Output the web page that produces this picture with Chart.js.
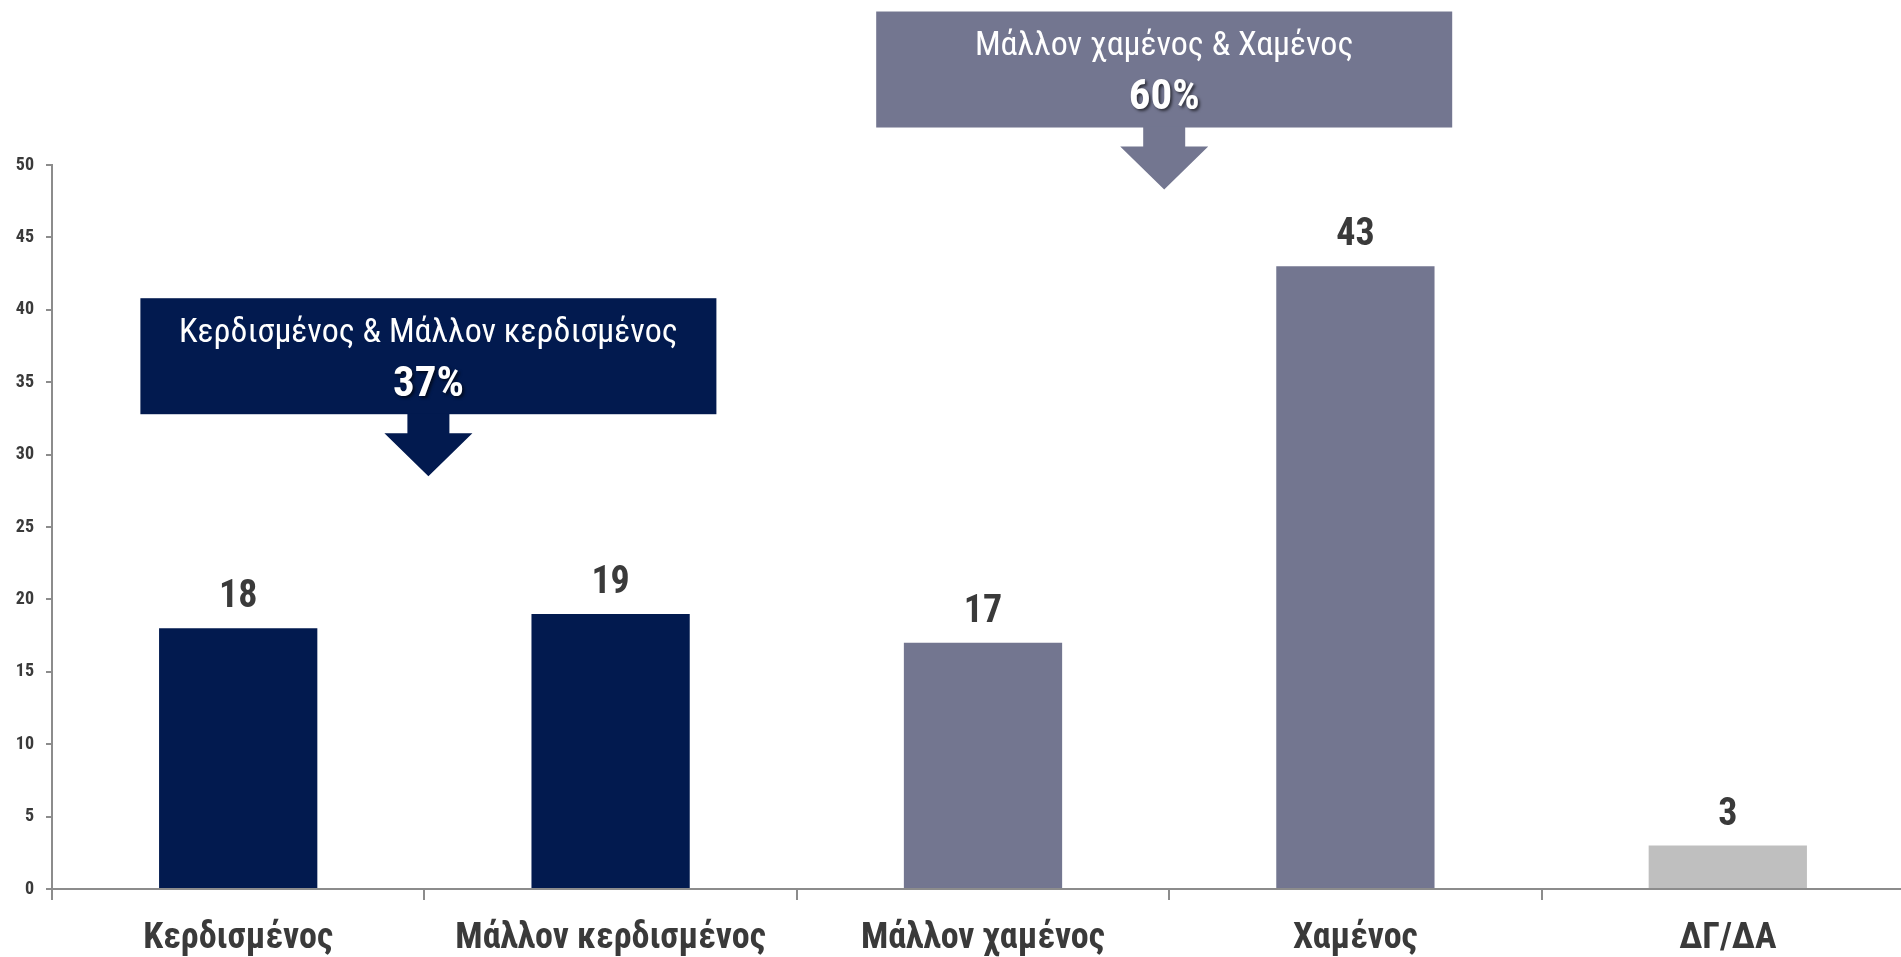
<!DOCTYPE html>
<html>
<head>
<meta charset="utf-8">
<script src="https://cdn.jsdelivr.net/npm/chart.js@4.4.1/dist/chart.umd.min.js"></script>
<style>
    html, body { margin: 0; padding: 0; background: #fff; overflow: hidden; }
    #wrap { width: 1920px; height: 957px; }
</style>
</head>
<body>
<div id="wrap"><canvas id="barChart"></canvas></div>
<script>
    'use strict';

    var categories = ['Κερδισμένος', 'Μάλλον κερδισμένος', 'Μάλλον χαμένος', 'Χαμένος', 'ΔΓ/ΔΑ'];
    var values = [18, 19, 17, 43, 3];
    var yMin = 0, yMax = 50, yStep = 5;

    // summary callouts above the bars
    var groupTitles = ['Κερδισμένος & Μάλλον κερδισμένος', 'Μάλλον χαμένος & Χαμένος'];
    var groupMembers = [[0, 1], [2, 3]];

    var navy = '#021A4F';
    var slate = '#737690';
    var lightGrey = '#BFBFBF';
    var axisGrey = '#8C8C8C';
    var textDark = '#3A3A3A';
    var barColors = [navy, navy, slate, slate, lightGrey];
    var groupColors = [navy, slate];
    var groupTopValue = [40.8, 60.6];
    var groupShift = [4, -5];

    var narrow = "'Liberation Sans Narrow', 'Arial Narrow', 'Roboto Condensed', sans-serif";

    var valueLabels = {
        id: 'valueLabels',
        afterDatasetsDraw: function (chart) {
            var ctx = chart.ctx;
            var meta = chart.getDatasetMeta(0);
            ctx.save();
            ctx.font = 'bold 38px ' + narrow;
            ctx.fillStyle = textDark;
            ctx.textAlign = 'center';
            ctx.textBaseline = 'alphabetic';
            meta.data.forEach(function (bar, i) {
                ctx.fillText(values[i], bar.x, bar.y - 21);
            });
            ctx.restore();
        }
    };

    var callouts = {
        id: 'callouts',
        afterDraw: function (chart) {
            var ctx = chart.ctx;
            var meta = chart.getDatasetMeta(0);
            var yScale = chart.scales.y;
            var boxW = 576, boxH = 116;
            ctx.save();
            groupMembers.forEach(function (members, g) {
                var total = members.reduce(function (s, i) { return s + values[i]; }, 0);
                var cx = (meta.data[members[0]].x + meta.data[members[1]].x) / 2 + groupShift[g];
                var top = yScale.getPixelForValue(groupTopValue[g]);
                var bottom = top + boxH;
                ctx.fillStyle = groupColors[g];
                ctx.fillRect(cx - boxW / 2, top, boxW, boxH);
                // arrow
                ctx.beginPath();
                ctx.moveTo(cx - 21, bottom - 1);
                ctx.lineTo(cx + 21, bottom - 1);
                ctx.lineTo(cx + 21, bottom + 19);
                ctx.lineTo(cx + 44, bottom + 19);
                ctx.lineTo(cx, bottom + 62);
                ctx.lineTo(cx - 44, bottom + 19);
                ctx.lineTo(cx - 21, bottom + 19);
                ctx.closePath();
                ctx.fill();
                // text
                ctx.fillStyle = '#FFFFFF';
                ctx.textAlign = 'center';
                ctx.textBaseline = 'middle';
                ctx.font = '34px ' + narrow;
                ctx.fillText(groupTitles[g], cx, top + 35);
                ctx.shadowColor = 'rgba(0,0,0,0.6)';
                ctx.shadowOffsetX = 2;
                ctx.shadowOffsetY = 2;
                ctx.shadowBlur = 3;
                ctx.font = 'bold 43px ' + narrow;
                ctx.fillText(total + '%', cx, top + 87);
                ctx.shadowColor = 'transparent';
            });
            ctx.restore();
        }
    };

    var barChart = new Chart(document.getElementById('barChart'), {
        type: 'bar',
        data: {
            labels: categories,
            datasets: [{
                data: values,
                backgroundColor: barColors,
                borderWidth: 0,
                barPercentage: 0.425,
                categoryPercentage: 1
            }]
        },
        options: {
            responsive: true,
            maintainAspectRatio: false,
            animation: false,
            layout: { padding: { top: 165, right: 6, left: 0, bottom: 0 } },
            plugins: {
                legend: { display: false },
                tooltip: { enabled: false }
            },
            scales: {
                x: {
                    grid: {
                        display: true,
                        drawOnChartArea: false,
                        drawTicks: true,
                        tickLength: 11,
                        color: axisGrey,
                        lineWidth: 2
                    },
                    border: { display: true, color: axisGrey, width: 2 },
                    ticks: {
                        color: textDark,
                        font: { family: narrow, size: 36, weight: 'bold' },
                        padding: 17,
                        maxRotation: 0,
                        autoSkip: false
                    },
                    afterFit: function (scale) { scale.height = 68; }
                },
                y: {
                    min: yMin,
                    max: yMax,
                    grid: {
                        display: true,
                        drawOnChartArea: false,
                        drawTicks: true,
                        tickLength: 6,
                        color: axisGrey,
                        lineWidth: 2
                    },
                    border: { display: true, color: axisGrey, width: 2 },
                    ticks: {
                        stepSize: yStep,
                        color: textDark,
                        font: { family: narrow, size: 18, weight: 'bold' },
                        padding: 12
                    },
                    afterFit: function (scale) { scale.width = 52; }
                }
            }
        },
        plugins: [valueLabels, callouts]
    });
</script>
</body>
</html>
